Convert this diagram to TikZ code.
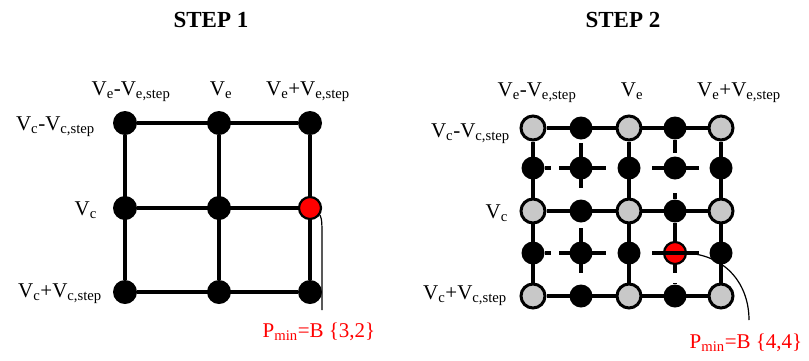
\documentclass[tikz,border=0pt]{standalone}
\usepackage{fontspec}
\setmainfont{Liberation Serif}
\usetikzlibrary{backgrounds,calc}
\definecolor{nodegray}{RGB}{200,200,200}
\begin{document}
\begin{tikzpicture}[x=1pt,y=-1pt,
  blk/.style={circle,fill=black,inner sep=0pt,minimum size=24pt},
  blks/.style={circle,fill=black,inner sep=0pt,minimum size=23pt},
  gry/.style={circle,fill=nodegray,draw=black,line width=3pt,inner sep=0pt,minimum size=24pt},
  redn/.style={circle,fill=red,draw=black,line width=2.2pt,inner sep=0pt,minimum size=22pt},
  gridln/.style={line width=3.3pt},
  lead/.style={line width=1.2pt},
  lbl/.style={font=\fontsize{21}{24}\selectfont,inner sep=0pt},
  title/.style={font=\fontsize{23}{26}\selectfont\bfseries,inner sep=0pt,anchor=base},
  pmin/.style={lbl,text=red,anchor=base}
]
\useasboundingbox (0,0) rectangle (809,360);

% titles
\node[title] (t1) at (211,27) {STEP 1};
\node[title] (t2) at (623,27) {STEP 2};

% ---------- STEP 1 ----------
\node[blk] (a11) at (125,123) {};
\node[blk] (a12) at (219,123) {};
\node[blk] (a13) at (310,123) {};
\node[blk] (a21) at (125,208) {};
\node[blk] (a22) at (219,208) {};
\node[redn] (a23) at (310,208) {};
\node[blk] (a31) at (125,292) {};
\node[blk] (a32) at (219,292) {};
\node[blk] (a33) at (310,292) {};
\begin{pgfonlayer}{background}
\draw[gridln] (a11) -- (a13) (a21) -- (a23) (a31) -- (a33)
              (a11) -- (a31) (a12) -- (a32) (a13) -- (a33);
\end{pgfonlayer}

\node[lbl,anchor=base] (c1) at (131,95) {V\textsubscript{e}-V\textsubscript{e,step}};
\node[lbl,anchor=base] (c2) at (221,95) {V\textsubscript{e}};
\node[lbl,anchor=base] (c3) at (308,95) {V\textsubscript{e}+V\textsubscript{e,step}};
\node[lbl,anchor=base east] (r1) at (95,130) {V\textsubscript{c}-V\textsubscript{c,step}};
\node[lbl,anchor=base east] (r2) at (97,215) {V\textsubscript{c}};
\node[lbl,anchor=base east] (r3) at (102,297) {V\textsubscript{c}+V\textsubscript{c,step}};

\coordinate (l1) at (322,310);
\draw[lead] (a23.-35) .. controls (322,220) .. (322,245) -- (l1);
\node[pmin] (p1) at (319,337) {P\textsubscript{min}=B \{3,2\}};

% ---------- STEP 2 ----------
\foreach \r/\y in {1/128,2/168,3/211,4/253,5/296}{
  \foreach \c/\x in {1/533,2/581,3/629,4/675,5/721}{
    \pgfmathtruncatemacro{\odd}{(mod(\r,2)==1) && (mod(\c,2)==1)}
    \ifnum\odd=1
      \node[gry] (b\r\c) at (\x,\y) {};
    \else
      \ifnum\r\c=44
        \node[redn] (b\r\c) at (\x,\y) {};
      \else
        \node[blks] (b\r\c) at (\x,\y) {};
      \fi
    \fi
  }
}
\begin{pgfonlayer}{background}
\draw[gridln] (b11) -- (b15) (b31) -- (b35) (b51) -- (b55)
              (b11) -- (b51) (b13) -- (b53) (b15) -- (b55);
% column 4
\draw[gridln] (b14) -- ($(b24)+(0,-15)$);
\draw[gridln] ($(b34)+(0,-18)$) -- (b34) -- (b44);
\draw[gridln] ($(b54)+(0,-13)$) -- (b54);
% even rows
\foreach \r in {2,4}{
  \draw[gridln] (b\r1) -- ($(b\r1)+(18,0)$);
  \draw[gridln] ($(b\r2)+(-22,0)$) -- ($(b\r2)+(25,0)$);
  \draw[gridln] ($(b\r2)+(0,-25)$) -- ($(b\r2)+(0,20)$);
}
\draw[gridln] ($(b24)+(-23,0)$) -- ($(b24)+(24,0)$);
\end{pgfonlayer}
% ticks drawn over the red node
\draw[gridln] ($(b44)+(-23,0)$) -- ($(b44)+(24,0)$);
\draw[gridln] (b44) -- ($(b44)+(0,20)$);

\node[lbl,anchor=base] (d1) at (537,96) {V\textsubscript{e}-V\textsubscript{e,step}};
\node[lbl,anchor=base] (d2) at (632,96) {V\textsubscript{e}};
\node[lbl,anchor=base] (d3) at (739,96) {V\textsubscript{e}+V\textsubscript{e,step}};
\node[lbl,anchor=base east] (s1) at (510,137) {V\textsubscript{c}-V\textsubscript{c,step}};
\node[lbl,anchor=base east] (s2) at (508,218) {V\textsubscript{c}};
\node[lbl,anchor=base east] (s3) at (507,299) {V\textsubscript{c}+V\textsubscript{c,step}};

\coordinate (l2) at (749,320);
\draw[lead] (b44.east) .. controls (727,256) and (749,285) .. (l2);
\node[pmin] (p2) at (746,348) {P\textsubscript{min}=B \{4,4\}};
\end{tikzpicture}
\end{document}
